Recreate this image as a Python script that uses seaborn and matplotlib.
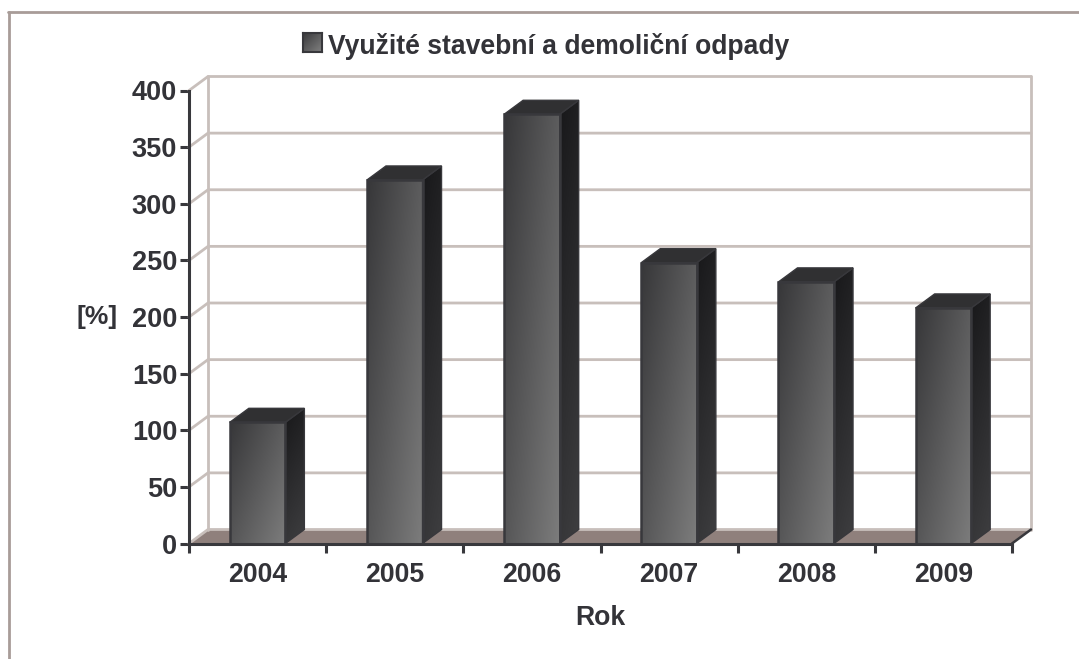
import numpy as np
import pandas as pd
import matplotlib
matplotlib.use("Agg")
import matplotlib.pyplot as plt
from matplotlib.lines import Line2D
from matplotlib.patches import Polygon
import seaborn as sns

# hodnoty
roky = ["2004", "2005", "2006", "2007", "2008", "2009"]
hodnoty = [107, 321, 379, 248, 231, 208]
y_ticks = [0, 50, 100, 150, 200, 250, 300, 350, 400]
nazev_rady = "Využité stavební a demoliční odpady"

W, H = 1079, 659
TEXT = "#333338"
GRID = "#c8bfbb"
FRAME = "#a89c98"
FLOOR = "#8f807c"
EDGE = "#38383c"

sns.set_style("white")
plt.rcParams["font.family"] = ["Liberation Sans", "DejaVu Sans"]
plt.rcParams["font.weight"] = "bold"

fig = plt.figure(figsize=(W / 100, H / 100), dpi=100, facecolor="white")
ax = fig.add_axes([189 / W, 1 - 543.5 / H, (1012 - 189) / W, (543.5 - 90.5) / H])

df = pd.DataFrame({"rok": roky, "hodnota": hodnoty})
sns.barplot(data=df, x="rok", y="hodnota", order=roky, width=0.405, color="#555555",
            edgecolor=EDGE, linewidth=1.8, saturation=1, ax=ax, zorder=4)

ax.set_xlim(-0.5, 5.5)
ax.set_ylim(0, 400)

# hloubka 3D efektu v jednotkach os
dx = 19 / ((1012 - 189) / 6)
dy = 14 / ((543.5 - 90.5) / 400)

# podlaha a zadni steny
ax.add_patch(Polygon([(-0.5, 0), (5.5, 0), (5.5 + dx, dy), (-0.5 + dx, dy)], closed=True,
                     facecolor=FLOOR, edgecolor="none", clip_on=False, zorder=1))
for t in y_ticks:
    ax.plot([-0.5, -0.5 + dx, 5.5 + dx], [t, t + dy, t + dy], color=GRID, lw=2,
            clip_on=False, zorder=2, solid_joinstyle="miter")
ax.plot([-0.5 + dx, -0.5 + dx], [dy, 400 + dy], color=GRID, lw=2, clip_on=False, zorder=2)
ax.plot([5.5 + dx, 5.5 + dx], [dy, 400 + dy], color=GRID, lw=2, clip_on=False, zorder=2)
ax.plot([5.5, 5.5 + dx], [0, dy], color=EDGE, lw=1.8, clip_on=False, zorder=3)


def gradient(x0, x1, y0, y1, start, end, clip, angle=0.5, zorder=5):
    # diagonalni prechod vyplneny pres patch
    gx, gy = np.meshgrid(np.linspace(0, 1, 64), np.linspace(0, 1, 64))
    g = (1 - angle) * gx + angle * gy
    img = ax.imshow(g, extent=[x0, x1, y0, y1], origin="upper", aspect="auto",
                    cmap=matplotlib.colors.LinearSegmentedColormap.from_list("g", [start, end]),
                    vmin=0, vmax=1, zorder=zorder, clip_on=True)
    img.set_clip_path(clip)
    return img


for bar in ax.containers[0]:
    x0, w, h = bar.get_x(), bar.get_width(), bar.get_height()
    x1 = x0 + w
    bar.set_clip_on(False)
    bar.set_facecolor("none")
    bar.set_zorder(7)
    # predni stena
    front = Polygon([(x0, 0), (x1, 0), (x1, h), (x0, h)], closed=True, facecolor="none",
                    edgecolor="none", transform=ax.transData, clip_on=False)
    ax.add_patch(front)
    gradient(x0, x1, 0, h, "#373739", "#7c7c7c", front, angle=0.45)
    # bocni stena
    side = Polygon([(x1, 0), (x1 + dx, dy), (x1 + dx, h + dy), (x1, h)], closed=True,
                   facecolor="none", edgecolor="none", clip_on=False)
    ax.add_patch(side)
    img = gradient(x1, x1 + dx, 0, h + dy, "#18181a", "#3e3e40", side, angle=0.8)
    img.set_clip_on(True)
    ax.add_patch(Polygon([(x1, 0), (x1 + dx, dy), (x1 + dx, h + dy), (x1, h)], closed=True,
                         facecolor="none", edgecolor=EDGE, lw=1, clip_on=False, zorder=6))
    # horni stena
    ax.add_patch(Polygon([(x0, h), (x1, h), (x1 + dx, h + dy), (x0 + dx, h + dy)], closed=True,
                         facecolor="#303032", edgecolor=EDGE, lw=1, clip_on=False, zorder=6))

ax.set_xlim(-0.5, 5.5)
ax.set_ylim(0, 400)

# osy
sns.despine(ax=ax, top=True, right=True)
for s in ["left", "bottom"]:
    ax.spines[s].set_color(EDGE)
    ax.spines[s].set_linewidth(2.2)
    ax.spines[s].set_zorder(8)

ax.set_yticks(y_ticks)
ax.set_xticks(np.arange(-0.5, 6, 1), minor=True)
ax.tick_params(axis="y", length=6.5, width=2.2, color=EDGE, labelcolor=TEXT, labelsize=19.5, pad=2, left=True)
ax.tick_params(axis="x", which="major", length=0, labelcolor=TEXT, labelsize=19.2, pad=13)
ax.tick_params(axis="x", which="minor", length=6.5, width=2.2, color=EDGE, bottom=True)

ax.set_xlabel("")
ax.set_ylabel("")
fig.text(97 / W, 1 - 317 / H, "[%]", ha="center", va="center", fontsize=19, fontweight="bold", color=TEXT)
fig.text(600 / W, 1 - 618 / H, "Rok", ha="center", va="center", fontsize=19.2, fontweight="bold", color=TEXT)

# legenda
fig.text(328 / W, 1 - 46 / H, nazev_rady, ha="left", va="center", fontsize=19.1, fontweight="bold", color=TEXT)
ax_leg = fig.add_axes([303 / W, 1 - 52 / H, 19 / W, 19 / H])
gx, gy = np.meshgrid(np.linspace(0, 1, 32), np.linspace(0, 1, 32))
ax_leg.imshow(0.5 * gx + 0.5 * gy, aspect="auto", vmin=0, vmax=1,
              cmap=matplotlib.colors.LinearSegmentedColormap.from_list("l", ["#3a3a3c", "#808080"]))
ax_leg.set_xticks([])
ax_leg.set_yticks([])
for s in ax_leg.spines.values():
    s.set_color(EDGE)
    s.set_linewidth(1.5)

# ramecek grafu - jen nahore a vlevo
fig.add_artist(Line2D([9 / W, 9 / W], [0, 1 - 12 / H], color=FRAME, lw=2))
fig.add_artist(Line2D([8 / W, 1], [1 - 12 / H, 1 - 12 / H], color=FRAME, lw=2))

fig.savefig("out.png", dpi=100, facecolor="white")
